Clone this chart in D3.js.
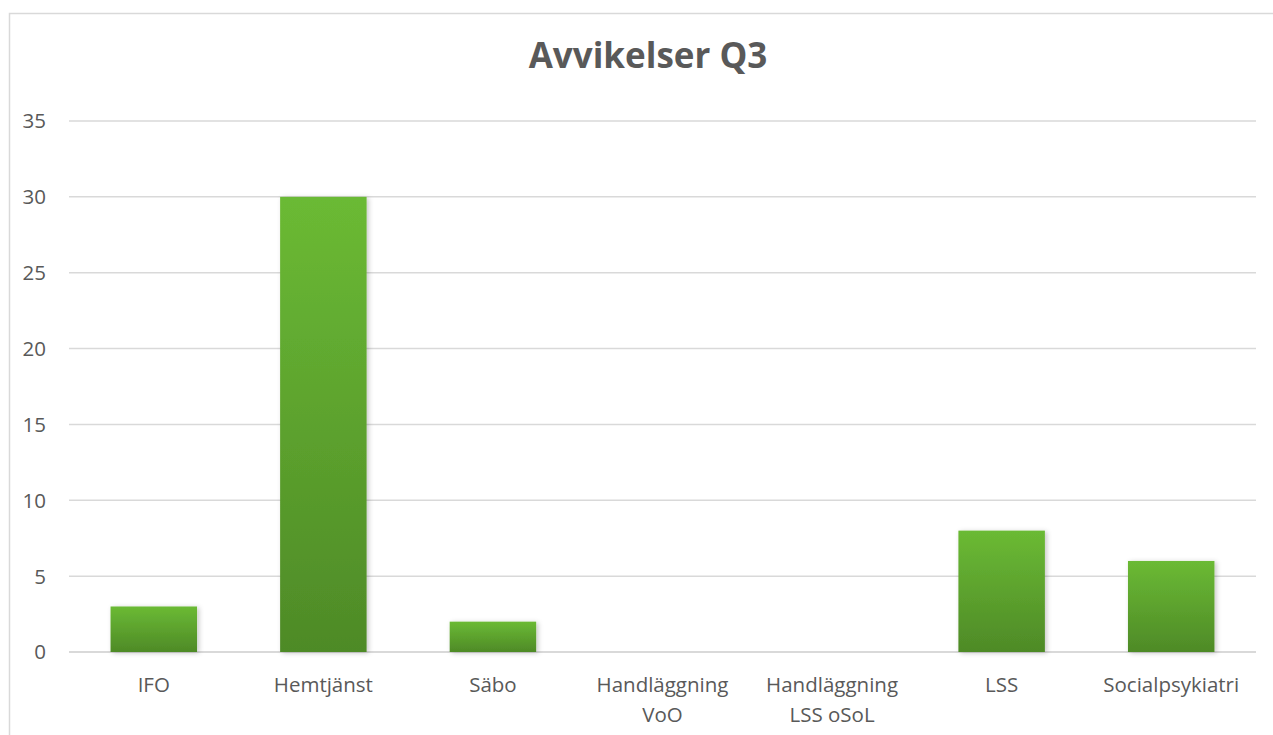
<!DOCTYPE html>
<html><head><meta charset="utf-8">
<script src="https://cdn.jsdelivr.net/npm/d3@7"></script>
<style>html,body{margin:0;padding:0;background:#fff;}svg{display:block;}</style>
</head><body>
<svg id="chart" width="1273" height="735"></svg>
<script>
const categories = ["IFO", "Hemtjänst", "Säbo", "Handläggning VoO", "Handläggning LSS oSoL", "LSS", "Socialpsykiatri"];
const labelLines = [["IFO"], ["Hemtjänst"], ["Säbo"], ["Handläggning", "VoO"], ["Handläggning", "LSS oSoL"], ["LSS"], ["Socialpsykiatri"]];
const values = [3, 30, 2, 0, 0, 8, 6];
const yTicks = [0, 5, 10, 15, 20, 25, 30, 35];
const title = "Avvikelser Q3";

const svg = d3.select("#chart");
const font = "'Open Sans', 'Noto Sans', sans-serif";
const textColor = "#595959";
const gridColor = "#d9d9d9";

// chart border
svg.append("rect").attr("x", 9.5).attr("y", 13.5).attr("width", 1275).attr("height", 740)
  .attr("fill", "#fff").attr("stroke", gridColor).attr("stroke-width", 1.5);

const defs = svg.append("defs");
const grad = defs.append("linearGradient").attr("id", "barGrad")
  .attr("x1", 0).attr("y1", 0).attr("x2", 0).attr("y2", 1);
grad.append("stop").attr("offset", "0%").attr("stop-color", "#6bba34");
grad.append("stop").attr("offset", "100%").attr("stop-color", "#4e8a27");
const f = defs.append("filter").attr("id", "shadow").attr("x", "-20%").attr("y", "-20%").attr("width", "140%").attr("height", "140%");
f.append("feDropShadow").attr("dx", 2).attr("dy", 1).attr("stdDeviation", 2.5)
  .attr("flood-color", "#000").attr("flood-opacity", 0.22);

const x = d3.scaleBand().domain(categories).range([69, 1256]).paddingInner(0.49).paddingOuter(0.245);
const y = d3.scaleLinear().domain([0, 35]).range([652, 121]);

// grid
svg.append("g").selectAll("line").data(yTicks).join("line")
  .attr("x1", 69).attr("x2", 1256)
  .attr("y1", d => y(d)).attr("y2", d => y(d))
  .attr("stroke", gridColor).attr("stroke-width", d => d === 0 ? 2 : 1.5);

// y labels
svg.append("g").selectAll("text").data(yTicks).join("text")
  .attr("x", 46).attr("y", d => y(d)).attr("dy", "0.36em")
  .attr("text-anchor", "end").attr("font-family", font).attr("font-size", 20.5)
  .attr("fill", textColor).text(d => d);

// bars
svg.append("g").selectAll("rect").data(values.map((v, i) => ({c: categories[i], v})).filter(d => d.v > 0)).join("rect")
  .attr("x", d => x(d.c)).attr("width", x.bandwidth())
  .attr("y", d => y(d.v)).attr("height", d => y(0) - y(d.v))
  .attr("fill", "url(#barGrad)").attr("filter", "url(#shadow)");

// x labels
const xl = svg.append("g").selectAll("text").data(categories).join("text")
  .attr("x", d => x(d) + x.bandwidth() / 2).attr("y", 692)
  .attr("text-anchor", "middle").attr("font-family", font).attr("font-size", 20.5)
  .attr("fill", textColor);
xl.each(function(d, i) {
  const t = d3.select(this);
  labelLines[i].forEach((line, j) => {
    t.append("tspan").attr("x", x(d) + x.bandwidth() / 2).attr("dy", j === 0 ? 0 : 30).text(line);
  });
});

// title
svg.append("text").attr("x", 648).attr("y", 68).attr("text-anchor", "middle")
  .attr("font-family", font).attr("font-size", 35).attr("font-weight", "bold")
  .attr("fill", textColor).text(title);
</script>
</body></html>
